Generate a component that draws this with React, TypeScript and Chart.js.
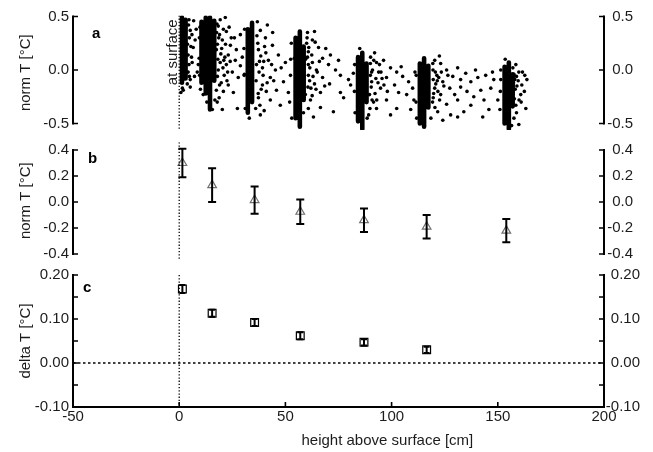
import { useEffect, useRef } from 'react';
import { Chart, registerables } from 'chart.js';

Chart.register(...registerables);

const FONT = "'Liberation Sans', Arial, Helvetica, sans-serif";
const TEXT = '#1c1c1c';

// ---- shared x axis ----
const xMin = -50;
const xMax = 200;
const xTicks = [-50, 0, 50, 100, 150, 200];
const xTitle = 'height above surface [cm]';
const xTitleCentre = 98; // x value under which the axis title is centred

// ---- panel a: individual normalised temperatures ----
const aMin = -0.56;
const aMax = 0.51;
const aTicks = [-0.5, 0, 0.5];
// dense cores of each height cluster: [height, top value, bottom value]
const aCores: [number, number, number][] = [
  [1.3, 0.49, -0.12], [3.0, 0.47, -0.08],
  [10.5, 0.45, -0.12], [12.5, 0.49, -0.22], [14.5, 0.49, -0.37], [16.5, 0.46, -0.1],
  [32.3, 0.38, -0.4], [34.3, 0.44, -0.3],
  [54.8, 0.3, -0.45], [56.8, 0.36, -0.53], [58.6, 0.22, -0.28],
  [84.2, 0.12, -0.48], [86.2, 0.16, -0.55], [88.2, 0.06, -0.3],
  [113.3, 0.06, -0.5], [115.3, 0.11, -0.53], [117.3, 0.04, -0.35],
  [153.2, 0.03, -0.5], [155.2, 0.07, -0.55], [157.0, -0.04, -0.34],
];
const aDots0: [number, number][] = [
  [5.2, 0.37], [7.5, 0.28], [4.2, 0.14], [6.1, 0.07], [8.5, -0.02], [5.2, -0.09], [1.9, -0.19],
  [3.8, -0.13], [6.6, 0.21], [4.4, 0.42], [9.4, 0.11], [5.2, -0.16], [4.8, 0.3], [6.8, 0.46],
  [8.0, 0.38], [4.6, 0.05], [7.2, -0.06], [3.9, 0.24], [1.5, -0.17], [0.8, -0.21],
  [4.6, 0.47], [5.5, 0.22], [4.2, -0.02], [6.0, 0.33], [4.8, -0.06], [5.8, 0.12],
];
const aDots15: [number, number][] = [
  [19.3, 0.47], [21.7, 0.49], [18.4, 0.41], [22.2, 0.36], [20.3, 0.28], [24.1, 0.23], [17.5, 0.19],
  [23.1, 0.14], [26.4, 0.09], [19.3, 0.07], [28.8, 0.04], [25.0, -0.02], [21.2, -0.05], [27.8, -0.07],
  [30.7, -0.04], [23.1, -0.14], [17.5, -0.19], [25.5, -0.21], [11.3, -0.23], [15.6, -0.37],
  [20.3, -0.37], [27.4, -0.36], [18.4, 0.0], [22.2, 0.05], [24.5, 0.3], [26.9, 0.19], [29.7, 0.12],
  [20.0, 0.2], [21.5, 0.12], [19.0, 0.33], [23.5, 0.4], [22.5, -0.1], [19.8, -0.12], [18.8, -0.26],
  [9.5, 0.3], [9.0, 0.05], [10.0, -0.18], [24.0, 0.08], [20.8, -0.2], [26.0, 0.3], [13.0, -0.3],
  [17.8, 0.43], [18.6, 0.3], [18.0, 0.24], [19.6, 0.15], [18.2, 0.1], [20.6, 0.02], [18.0, -0.06],
  [19.0, -0.14], [21.8, 0.24], [20.8, 0.38], [17.6, 0.35], [22.8, -0.02], [21.0, 0.09], [17.9, -0.3],
  [16.8, -0.28], [9.8, 0.4], [9.6, -0.05],
];
const aDots35: [number, number][] = [
  [38.2, 0.37], [41.5, 0.42], [40.6, 0.3], [43.9, 0.23], [37.3, 0.19], [46.7, 0.14], [42.0, 0.09],
  [50.0, 0.07], [39.2, 0.02], [45.3, 0.0], [52.4, -0.05], [42.9, -0.07], [49.1, -0.11], [39.2, -0.14],
  [45.8, -0.19], [51.4, -0.21], [37.3, -0.26], [42.9, -0.28], [38.2, -0.42], [31.1, -0.36],
  [47.6, -0.33], [28.8, 0.33], [54.2, 0.11], [37.8, 0.08], [39.5, -0.05], [40.8, 0.16], [44.0, 0.35],
  [36.8, 0.45], [41.0, -0.2], [38.0, -0.33], [30.5, 0.2], [33.0, -0.45], [44.5, -0.1], [48.0, 0.02],
  [36.6, 0.32], [37.0, 0.25], [38.4, 0.13], [36.4, 0.05], [37.6, -0.02], [36.2, -0.1], [38.6, -0.18],
  [40.2, 0.22], [39.8, 0.08], [41.4, -0.12], [37.2, -0.22], [36.0, -0.36], [30.6, -0.05], [30.8, 0.38],
  [43.5, 0.05], [40.0, -0.38],
];
const aDots57: [number, number][] = [
  [60.4, 0.35], [63.7, 0.36], [62.7, 0.28], [65.6, 0.21], [60.8, 0.17], [67.5, 0.11], [62.7, 0.07],
  [70.3, 0.05], [64.6, 0.0], [73.6, 0.0], [60.8, -0.05], [67.5, -0.07], [75.9, -0.05], [63.7, -0.13],
  [70.8, -0.13], [79.7, -0.09], [66.5, -0.21], [75.9, -0.21], [77.4, -0.26], [66.5, -0.35],
  [72.6, -0.39], [63.2, -0.44], [71.2, 0.14], [75.0, 0.09], [80.7, -0.14], [59.4, -0.23],
  [61.8, -0.28], [60.0, 0.25], [61.5, 0.02], [59.5, 0.1], [65.0, -0.02], [68.5, -0.15],
  [62.0, -0.17], [52.5, 0.1], [52.0, -0.3], [58.5, -0.4], [69.0, 0.2], [82.0, -0.03],
  [60.2, 0.3], [61.0, 0.21], [60.4, 0.12], [62.4, 0.14], [60.8, 0.05], [63.0, -0.06], [61.4, -0.1],
  [60.6, -0.16], [64.4, -0.18], [62.6, -0.24], [60.8, -0.36], [66.0, 0.08], [64.0, 0.26],
  [53.0, -0.45], [52.8, 0.25],
];
const aDots87: [number, number][] = [
  [90.1, 0.12], [92.9, 0.07], [96.2, 0.09], [99.5, 0.02], [93.9, -0.02], [102.4, -0.02], [97.6, -0.07],
  [90.6, -0.11], [105.2, -0.06], [94.8, -0.17], [101.4, -0.14], [89.6, -0.23], [97.6, -0.28],
  [92.9, -0.36], [102.4, -0.36], [89.2, -0.42], [99.5, -0.42], [108.0, -0.11], [109.9, -0.17],
  [107.1, -0.23], [94.3, 0.05], [103.3, -0.21], [109.0, -0.37], [91.0, 0.0], [91.5, -0.3],
  [95.5, -0.08], [92.0, 0.16], [82.5, -0.2], [104.5, 0.03], [98.0, -0.2], [90.0, -0.05],
  [85.0, 0.2], [88.5, -0.45], [111.0, -0.02], [110.5, -0.28],
  [90.0, 0.06], [91.6, 0.09], [90.6, -0.02], [92.6, -0.08], [90.4, -0.16], [92.2, -0.22], [90.8, -0.28],
  [93.6, -0.12], [95.0, -0.02], [89.8, -0.36], [93.0, -0.28], [96.4, -0.14], [82.6, 0.05], [82.8, -0.4],
];
const aDots117: [number, number][] = [
  [120.3, 0.09], [123.1, 0.06], [125.9, 0.0], [121.3, -0.05], [128.8, -0.06], [124.1, -0.11],
  [120.3, -0.17], [127.4, -0.17], [123.1, -0.23], [129.7, -0.23], [119.3, -0.3], [125.9, -0.32],
  [121.7, -0.39], [127.8, -0.42], [131.1, -0.28], [124.1, -0.47], [132.5, -0.09], [131.1, 0.02],
  [119.5, 0.0], [121.5, -0.1], [119.8, -0.22], [122.5, 0.13], [111.5, -0.3], [126.5, -0.05],
  [118.5, -0.45], [134.9, -0.03], [132.5, -0.16], [137.3, -0.11], [140.6, -0.07], [144.3, -0.05],
  [146.7, -0.17], [142.0, -0.19], [138.7, -0.25], [134.0, -0.39], [131.1, -0.44], [142.9, -0.44],
  [145.8, -0.37], [137.3, -0.33], [148.1, -0.09], [150.0, -0.28], [139.5, 0.0], [135.5, -0.2],
  [143.5, -0.28], [147.5, -0.02],
  [119.4, 0.06], [120.6, -0.02], [119.6, -0.09], [122.2, -0.07], [120.8, -0.13], [121.8, -0.2],
  [119.6, -0.26], [122.6, -0.28], [120.4, -0.35], [123.4, -0.02], [124.6, -0.15], [111.6, -0.05],
  [111.8, -0.45],
];
const aDots154: [number, number][] = [
  [157.1, 0.02], [159.9, -0.02], [162.7, -0.05], [158.0, -0.09], [161.3, -0.14], [163.7, -0.09],
  [157.1, -0.21], [160.8, -0.23], [158.5, -0.33], [163.2, -0.36], [157.6, -0.45], [159.9, -0.51],
  [151.4, -0.09], [151.0, -0.37], [158.5, 0.05], [161.0, -0.3], [159.0, -0.15], [162.5, -0.2],
  [153.5, 0.1], [156.5, -0.52],
  [157.6, -0.04], [158.8, -0.06], [157.4, -0.12], [159.6, -0.1], [158.2, -0.18], [160.0, -0.28],
  [157.8, -0.27], [158.8, -0.4], [161.6, -0.02], [151.2, -0.2], [151.4, 0.0],
];

// ---- panel b: mean normalised temperature per height ----
const bMin = -0.44;
const bMax = 0.46;
const bTicks = [-0.4, -0.2, 0, 0.2, 0.4];
const heights = [1.5, 15.5, 35.5, 57, 87, 116.5, 154];
const normMean = [0.3, 0.13, 0.015, -0.075, -0.14, -0.19, -0.22];
const normLow = [0.19, 0.0, -0.09, -0.17, -0.23, -0.28, -0.31];
const normHigh = [0.41, 0.26, 0.12, 0.02, -0.05, -0.1, -0.13];

// ---- panel c: delta T per height ----
const cMin = -0.1;
const cMax = 0.2;
const cTicks = [-0.1, 0, 0.1, 0.2];
const cMinorTicks = [-0.05, 0.05, 0.15];
const deltaHeights = [1.5, 15.5, 35.5, 57, 87, 116.5];
const deltaMean = [0.168, 0.113, 0.092, 0.062, 0.047, 0.03];
const deltaErr = [0.009, 0.008, 0.008, 0.008, 0.007, 0.007];

const tickFont = { family: FONT, size: 15 };

function noPad(s: any) {
  s.paddingTop = 0;
  s.paddingBottom = 0;
  s.paddingLeft = 0;
  s.paddingRight = 0;
}

function leftAxis(min: number, max: number, ticks: number[], digits: number, title: string) {
  return {
    type: 'linear',
    position: 'left',
    min,
    max,
    afterBuildTicks: (s: any) => {
      s.ticks = ticks.map((value) => ({ value }));
    },
    afterFit: (s: any) => {
      s.width = 73;
      noPad(s);
    },
    grid: { display: false, drawTicks: false },
    border: { display: false },
    ticks: {
      padding: 4,
      color: TEXT,
      font: tickFont,
      callback: (v: any) => Number(v).toFixed(digits),
    },
    title: {
      display: true,
      text: title,
      color: TEXT,
      font: tickFont,
      padding: { top: 16.5, bottom: 0 },
    },
  };
}

function rightAxis(min: number, max: number, ticks: number[], digits: number, width: number) {
  return {
    type: 'linear',
    position: 'right',
    min,
    max,
    afterBuildTicks: (s: any) => {
      s.ticks = ticks.map((value) => ({ value }));
    },
    afterFit: (s: any) => {
      s.width = width;
      noPad(s);
    },
    grid: { display: false, drawTicks: false },
    border: { display: false },
    ticks: {
      padding: 5,
      crossAlign: 'far',
      color: TEXT,
      font: tickFont,
      callback: (v: any) => Number(v).toFixed(digits),
    },
  };
}

function xAxis(show: boolean) {
  const axis: any = {
    type: 'linear',
    min: xMin,
    max: xMax,
    display: show,
    afterBuildTicks: (s: any) => {
      s.ticks = xTicks.map((value) => ({ value }));
    },
    grid: { display: false, drawTicks: false },
    border: { display: false },
    ticks: {
      padding: 1,
      color: TEXT,
      font: tickFont,
      maxRotation: 0,
      autoSkip: false,
      callback: (v: any) => String(v),
    },
  };
  if (show) {
    axis.afterFit = (s: any) => {
      s.height = 45;
      noPad(s);
    };
  }
  return axis;
}

type FrameCfg = {
  ticks: number[];
  minor: number[];
  bottom: boolean;
  letter: string;
  letterDx: number;
  letterY: number;
  note?: string;
};

function framePlugin(cfg: FrameCfg) {
  return {
    id: 'frame',
    afterDraw(chart: any) {
      const { ctx, chartArea: ca, scales } = chart;
      const y = scales.y;
      const x = scales.x;
      const yTop = y.getPixelForValue(Math.max(...cfg.ticks));
      const yBot = cfg.bottom ? ca.bottom : y.getPixelForValue(Math.min(...cfg.ticks));
      ctx.save();
      ctx.strokeStyle = '#000';
      ctx.lineCap = 'butt';
      ctx.lineWidth = 2;
      ctx.beginPath();
      ctx.moveTo(ca.left, yTop - 1);
      ctx.lineTo(ca.left, yBot + 1);
      ctx.moveTo(ca.right, yTop - 1);
      ctx.lineTo(ca.right, yBot + 1);
      if (cfg.bottom) {
        ctx.moveTo(ca.left - 1, ca.bottom);
        ctx.lineTo(ca.right + 1, ca.bottom);
      }
      ctx.stroke();
      ctx.lineWidth = 1.6;
      ctx.beginPath();
      for (const v of [...cfg.ticks, ...cfg.minor]) {
        const p = y.getPixelForValue(v);
        ctx.moveTo(ca.left, p);
        ctx.lineTo(ca.left + 5, p);
        ctx.moveTo(ca.right, p);
        ctx.lineTo(ca.right - 5, p);
      }
      if (cfg.bottom) {
        for (const v of xTicks) {
          const p = x.getPixelForValue(v);
          ctx.moveTo(p, ca.bottom);
          ctx.lineTo(p, ca.bottom - 5);
        }
      }
      ctx.stroke();
      ctx.fillStyle = '#000';
      ctx.font = `bold 15px ${FONT}`;
      ctx.textAlign = 'left';
      ctx.textBaseline = 'alphabetic';
      ctx.fillText(cfg.letter, ca.left + cfg.letterDx, cfg.letterY);
      if (cfg.bottom) {
        ctx.fillStyle = TEXT;
        ctx.font = `15px ${FONT}`;
        ctx.textAlign = 'center';
        ctx.textBaseline = 'middle';
        ctx.fillText(xTitle, x.getPixelForValue(xTitleCentre), ca.bottom + 34);
      }
      if (cfg.note) {
        ctx.fillStyle = TEXT;
        ctx.font = `15px ${FONT}`;
        ctx.textAlign = 'center';
        ctx.textBaseline = 'alphabetic';
        ctx.translate(x.getPixelForValue(0) - 2, y.getPixelForValue(0.165));
        ctx.rotate(-Math.PI / 2);
        ctx.fillText(cfg.note, 0, 0);
      }
      ctx.restore();
    },
  };
}

function errorBarPlugin(xs: number[], lows: number[], highs: number[], cap: number) {
  return {
    id: 'errbars',
    afterDatasetsDraw(chart: any) {
      const { ctx, scales } = chart;
      const x = scales.x;
      const y = scales.y;
      ctx.save();
      ctx.strokeStyle = '#000';
      ctx.lineWidth = 2;
      ctx.lineCap = 'butt';
      xs.forEach((xv, i) => {
        const px = x.getPixelForValue(xv);
        const lo = y.getPixelForValue(lows[i]);
        const hi = y.getPixelForValue(highs[i]);
        ctx.beginPath();
        ctx.moveTo(px, lo);
        ctx.lineTo(px, hi);
        ctx.moveTo(px - cap, lo);
        ctx.lineTo(px + cap, lo);
        ctx.moveTo(px - cap, hi);
        ctx.lineTo(px + cap, hi);
        ctx.stroke();
      });
      ctx.restore();
    },
  };
}

const baseOptions = (padTop: number, padBottom: number, padRight: number) => ({
  responsive: false,
  animation: false,
  events: [],
  layout: { autoPadding: false, padding: { left: 0, right: padRight, top: padTop, bottom: padBottom } },
  plugins: { legend: { display: false }, tooltip: { enabled: false } },
});

function surfaceLine(top: number, bottom: number) {
  return {
    data: [
      { x: 0, y: top },
      { x: 0, y: bottom },
    ],
    showLine: true,
    borderColor: '#000',
    borderWidth: 1.3,
    borderDash: [1.3, 1.9],
    pointRadius: 0,
  };
}

export default function App() {
  const refA = useRef<HTMLCanvasElement>(null);
  const refB = useRef<HTMLCanvasElement>(null);
  const refC = useRef<HTMLCanvasElement>(null);

  useEffect(() => {
    const coreData: any[] = [];
    aCores.forEach(([x, t, b]) => {
      coreData.push({ x, y: t }, { x, y: b }, { x, y: null });
    });
    const dots = [...aDots0, ...aDots15, ...aDots35, ...aDots57, ...aDots87, ...aDots117, ...aDots154].map(
      ([x, y]) => ({ x, y })
    );

    const chartA = new Chart(refA.current as HTMLCanvasElement, {
      type: 'scatter',
      data: {
        datasets: [
          surfaceLine(aMax, aMin),
          {
            data: coreData,
            showLine: true,
            spanGaps: false,
            borderColor: '#000',
            borderWidth: 4.6,
            borderCapStyle: 'round',
            pointRadius: 0,
          },
          {
            data: dots,
            pointRadius: 1.8,
            backgroundColor: '#000',
            borderColor: '#000',
            borderWidth: 0,
          },
        ],
      } as any,
      options: {
        ...baseOptions(15.4, 5.1, 20),
        scales: {
          x: xAxis(false),
          y: leftAxis(aMin, aMax, aTicks, 1, 'norm T [°C]'),
          y2: rightAxis(aMin, aMax, aTicks, 1, 29),
        },
      } as any,
      plugins: [
        framePlugin({ ticks: aTicks, minor: [], bottom: false, letter: 'a', letterDx: 19, letterY: 38, note: 'at surface' }),
      ],
    });

    const chartB = new Chart(refB.current as HTMLCanvasElement, {
      type: 'scatter',
      data: {
        datasets: [
          surfaceLine(bMax, bMin),
          {
            data: heights.map((h, i) => ({ x: h, y: normMean[i] })),
            pointStyle: 'triangle',
            pointRadius: 5,
            borderColor: '#707070',
            backgroundColor: 'rgba(0,0,0,0)',
            borderWidth: 1.2,
          },
        ],
      } as any,
      options: {
        ...baseOptions(7.2, 5.8, 20),
        scales: {
          x: xAxis(false),
          y: leftAxis(bMin, bMax, bTicks, 1, 'norm T [°C]'),
          y2: rightAxis(bMin, bMax, bTicks, 1, 29),
        },
      } as any,
      plugins: [
        framePlugin({ ticks: bTicks, minor: [], bottom: false, letter: 'b', letterDx: 15, letterY: 28 }),
        errorBarPlugin(heights, normLow, normHigh, 4),
      ],
    });

    const chartC = new Chart(refC.current as HTMLCanvasElement, {
      type: 'scatter',
      data: {
        datasets: [
          surfaceLine(cMax, cMin),
          {
            data: [
              { x: xMin, y: 0 },
              { x: xMax, y: 0 },
            ],
            showLine: true,
            borderColor: '#000',
            borderWidth: 1.6,
            borderDash: [2.5, 2.5],
            pointRadius: 0,
          },
          {
            data: deltaHeights.map((h, i) => ({ x: h, y: deltaMean[i] })),
            pointStyle: 'rect',
            pointRadius: 5.5,
            borderColor: '#000',
            backgroundColor: 'rgba(0,0,0,0)',
            borderWidth: 1.2,
          },
        ],
      } as any,
      options: {
        ...baseOptions(10, 0, 13),
        scales: {
          x: xAxis(true),
          y: leftAxis(cMin, cMax, cTicks, 2, 'delta T [°C]'),
          y2: rightAxis(cMin, cMax, cTicks, 2, 36),
        },
      } as any,
      plugins: [
        framePlugin({ ticks: cTicks, minor: cMinorTicks, bottom: true, letter: 'c', letterDx: 10, letterY: 27 }),
        errorBarPlugin(
          deltaHeights,
          deltaMean.map((m, i) => m - deltaErr[i]),
          deltaMean.map((m, i) => m + deltaErr[i]),
          3
        ),
      ],
    });

    return () => {
      chartA.destroy();
      chartB.destroy();
      chartC.destroy();
    };
  }, []);

  return (
    <div style={{ position: 'absolute', left: 0, top: 0, width: 653, height: 452, background: '#fff' }}>
      <canvas ref={refA} width={653} height={135} style={{ position: 'absolute', left: 0, top: 0 }} />
      <canvas ref={refB} width={653} height={130} style={{ position: 'absolute', left: 0, top: 135 }} />
      <canvas ref={refC} width={653} height={187} style={{ position: 'absolute', left: 0, top: 265 }} />
    </div>
  );
}
